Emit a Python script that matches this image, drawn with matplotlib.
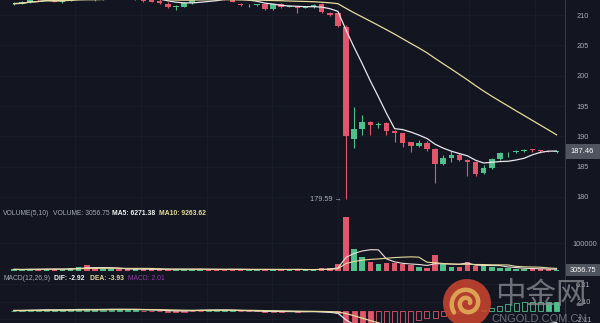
import numpy as np
import pandas as pd
import matplotlib
matplotlib.use("Agg")
import matplotlib.pyplot as plt
from matplotlib.patches import Rectangle, Ellipse
from matplotlib.transforms import blended_transform_factory

# ---- hourly OHLC + volume ----
opens = [211.8, 212.0, 212.1, 212.7, 212.5, 212.9, 212.2, 212.4, 212.9, 213.1,
         212.8, 212.6, 213.0, 213.3, 213.0, 212.8, 212.9, 212.6, 212.3, 211.9,
         211.4, 211.4, 212.0, 212.8, 213.2, 213.1, 212.9, 212.8, 211.8, 211.6,
         211.7, 211.8, 211.0, 211.8, 211.4, 211.3, 211.2, 211.3, 211.8, 210.4,
         210.4, 208.0, 189.5, 191.2, 192.4, 191.9, 192.2, 190.9, 190.5, 189.0,
         188.4, 188.9, 187.9, 185.4, 186.4, 187.0, 186.1, 185.8, 184.0, 184.8,
         186.2, 187.2, 187.35, 187.5, 187.8, 187.7, 187.65, 187.4]
highs = [212.1, 212.3, 212.9, 213.0, 213.2, 213.0, 212.7, 213.1, 213.3, 213.4,
         213.0, 213.2, 213.5, 213.6, 213.3, 213.1, 213.0, 212.8, 212.6, 212.1,
         211.7, 212.1, 213.0, 213.4, 213.6, 213.4, 213.2, 213.0, 212.0, 211.9,
         211.9, 212.0, 211.9, 212.0, 211.7, 211.5, 211.5, 211.8, 212.0, 210.5,
         210.5, 208.3, 194.9, 193.5, 192.6, 192.4, 192.3, 191.0, 190.6, 189.1,
         189.4, 189.2, 188.0, 186.9, 187.5, 187.2, 186.2, 185.9, 185.2, 186.5,
         187.4, 187.4, 187.7, 187.9, 187.9, 187.75, 187.7, 187.6]
lows = [211.6, 211.8, 212.0, 212.3, 212.4, 212.1, 212.0, 212.3, 212.6, 212.7,
        212.4, 212.5, 212.8, 212.9, 212.6, 212.5, 212.2, 212.1, 211.9, 211.2,
        210.9, 211.3, 211.9, 212.6, 212.9, 212.7, 212.5, 212.1, 211.5, 211.4,
        211.5, 210.9, 210.9, 211.2, 211.3, 210.4, 211.1, 211.2, 210.4, 209.9,
        208.1, 179.59, 188.0, 190.2, 190.3, 191.3, 190.2, 189.1, 188.3, 187.4,
        188.2, 187.5, 182.3, 185.2, 185.8, 185.9, 183.5, 183.5, 183.8, 184.6,
        186.1, 186.6, 187.2, 187.4, 187.4, 187.3, 187.35, 187.3]
closes = [211.9, 212.0, 212.6, 212.5, 213.0, 212.2, 212.4, 212.9, 213.1, 212.8,
          212.6, 213.0, 213.3, 213.0, 212.8, 212.9, 212.4, 212.2, 212.0, 211.3,
          211.4, 212.0, 212.8, 213.2, 213.1, 212.9, 212.8, 212.2, 211.6, 211.7,
          211.7, 211.0, 211.8, 211.3, 211.5, 211.2, 211.3, 211.7, 210.5, 210.0,
          208.2, 190.0, 191.2, 192.4, 191.9, 192.0, 190.9, 190.5, 188.9, 188.4,
          188.9, 187.9, 185.4, 186.4, 187.0, 186.1, 185.8, 183.8, 184.7, 186.2,
          187.3, 187.3, 187.59, 187.79, 187.74, 187.59, 187.54, 187.46]
volumes = [6000, 5000, 7000, 6500, 8000, 7500, 6000, 9000, 14000, 22000,
           9000, 7000, 8000, 6500, 6000, 5500, 7000, 6000, 5000, 8000,
           6000, 7000, 6500, 6000, 5500, 5000, 6000, 7000, 5500, 4500,
           4000, 7000, 6000, 5500, 4500, 6000, 4000, 5000, 9000, 10000,
           26000, 192000, 78000, 51000, 33000, 24000, 29000, 27000, 24000, 21000,
           15000, 12000, 58000, 24000, 15000, 13000, 33000, 19000, 20000, 13000,
           11000, 9500, 7779.3, 8200, 7600, 6900, 5600.15, 3056.75]

price_ticks = [180, 185, 190, 195, 200, 205, 210]
volume_ticks = [100000]
macd_ticks = [6.31, 2.10, -2.11]
macd_tick_labels = ["6.31", "2.10", "-2.11"]

# ---- styling ----
BG = "#131621"
UP = "#4fbf8b"
DOWN = "#e0566a"
MA_WHITE = "#e9e6ee"
MA_YELLOW = "#e6dc9c"
TXT = "#a6aab3"
SEP = "#33374a"
GRID = "#1a1e2b"
FONT = "Liberation Sans"

W, H = 600, 323
fig = plt.figure(figsize=(W / 100, H / 100), dpi=100, facecolor=BG)


def rect(x0, y0, x1, y1):
    return [x0 / W, 1 - y1 / H, (x1 - x0) / W, (y1 - y0) / H]


n = len(closes)
x = np.arange(n)
o = np.array(opens); h = np.array(highs); l = np.array(lows); c = np.array(closes)
v = np.array(volumes, dtype=float)
up = c >= o
colors = np.where(up, UP, DOWN)
xlim = (-1.716, 68.04)

s = pd.Series(c)
ma7 = s.rolling(7, min_periods=1).mean()
ma30 = s.rolling(30, min_periods=1).mean()
vs = pd.Series(v)
vma5 = vs.rolling(5, min_periods=1).mean()
vma10 = vs.rolling(10, min_periods=1).mean()
ema12 = s.ewm(span=12, adjust=False).mean()
ema26 = s.ewm(span=26, adjust=False).mean()
dif = ema12 - ema26
dea = dif.ewm(span=9, adjust=False).mean()
hist = 2 * (dif - dea)

ax_p = fig.add_axes(rect(0, 0, 565, 207))
ax_v = fig.add_axes(rect(0, 207, 565, 272))
ax_m = fig.add_axes(rect(0, 272, 565, 345))

vgrid = np.arange(7.6, 68, 8.1)
for ax in (ax_p, ax_v, ax_m):
    ax.set_facecolor(BG)
    ax.set_xlim(*xlim)
    for sp in ax.spines.values():
        sp.set_visible(False)
    ax.spines["right"].set_visible(True)
    ax.spines["right"].set_color(SEP)
    ax.spines["right"].set_linewidth(0.8)
    ax.spines["bottom"].set_visible(True)
    ax.spines["bottom"].set_color(SEP)
    ax.spines["bottom"].set_linewidth(0.8)
    ax.set_xticks(vgrid)
    ax.tick_params(axis="x", length=0, labelbottom=False)
    ax.yaxis.tick_right()
    ax.tick_params(axis="y", length=0, labelsize=5.3, labelcolor=TXT, pad=8)
    ax.grid(True, color=GRID, linewidth=0.6)
    ax.set_axisbelow(True)

# ---- price panel ----
ax_p.set_ylim(178.34, 212.5)
ax_p.set_yticks(price_ticks)
ax_p.set_yticklabels([str(t) for t in price_ticks], fontfamily=FONT)
body_lo = np.minimum(o, c)
body_h = np.maximum(np.abs(c - o), 0.12)
ax_p.vlines(x, l, h, colors=colors, linewidth=0.8, zorder=2)
ax_p.bar(x, body_h, bottom=body_lo, width=0.68, color=colors, linewidth=0, zorder=3)
ax_p.plot(x, ma7, color=MA_WHITE, linewidth=0.9, zorder=4)
ax_p.plot(x, ma30, color=MA_YELLOW, linewidth=0.9, zorder=4)

low_i = int(np.argmin(l))
ax_p.annotate(f"{l[low_i]:.2f} \u2192", xy=(low_i - 0.45, l[low_i]), ha="right", va="center",
              fontsize=5.3, color=TXT, fontfamily=FONT)

bt = blended_transform_factory(ax_p.transAxes, ax_p.transData)
ax_p.add_patch(Rectangle((1.002, c[-1] - 1.2), 0.06, 2.4, transform=bt,
                         facecolor="#50545f", edgecolor="none", clip_on=False, zorder=5))
ax_p.text(1.031, c[-1], f"{c[-1]:.2f}", transform=bt, ha="center", va="center",
          fontsize=5.4, color="white", fontfamily=FONT, zorder=6, clip_on=False)

# ---- volume panel ----
ax_v.set_ylim(-3571, 228571)
ax_v.set_yticks(volume_ticks)
ax_v.set_yticklabels([str(t) for t in volume_ticks], fontfamily=FONT)
ax_v.tick_params(axis="y", pad=5)
ax_v.bar(x, v, width=0.68, color=colors, linewidth=0, zorder=3)
ax_v.plot(x, vma5, color="#f1dcdc", linewidth=0.8, zorder=4)
ax_v.plot(x, vma10, color=MA_YELLOW, linewidth=0.8, zorder=4)
bv = blended_transform_factory(ax_v.transAxes, ax_v.transData)
ax_v.add_patch(Rectangle((1.002, v[-1] - 22000), 0.06, 44000, transform=bv,
                         facecolor="#50545f", edgecolor="none", clip_on=False, zorder=5))
ax_v.text(1.031, v[-1], f"{v[-1]:.2f}", transform=bv, ha="center", va="center",
          fontsize=5.3, color="white", fontfamily=FONT, zorder=6, clip_on=False)

# ---- MACD panel: histogram hollow while rising, solid while falling ----
ax_m.set_ylim(-8.29, 9.255)
ax_m.set_yticks(macd_ticks)
ax_m.set_yticklabels(macd_tick_labels, fontfamily=FONT)
hv = hist.values
prev = np.concatenate([[0.0], hv[:-1]])
for i in range(n):
    val = hv[i]
    col = UP if val >= 0 else DOWN
    solid = val < prev[i]
    ax_m.bar(i, val, width=0.62, facecolor=col if solid else BG,
             edgecolor=col, linewidth=0.6, zorder=3)
ax_m.plot(x, dif, color=MA_WHITE, linewidth=0.9, zorder=4)
ax_m.plot(x, dea, color=MA_YELLOW, linewidth=0.9, zorder=4)


# ---- panel titles ----
def title_row(y_px, parts):
    for x_px, text, col, weight in parts:
        fig.text(x_px / W, 1 - y_px / H, text, color=col, fontsize=4.9, fontweight=weight,
                 fontfamily=FONT, va="center", ha="left")


title_row(213.5, [
    (3, "VOLUME(5,10)", TXT, "normal"),
    (53, f"VOLUME: {v[-1]:.2f}", TXT, "normal"),
    (112, f"MA5: {vma5.iloc[-1]:.2f}", "#f4f4f4", "bold"),
    (159, f"MA10: {vma10.iloc[-1]:.2f}", MA_YELLOW, "bold"),
])
title_row(279, [
    (3, "MACD(12,26,9)", TXT, "normal"),
    (54, f"DIF: {dif.iloc[-1]:.2f}", "#f4f4f4", "bold"),
    (90, f"DEA: {dea.iloc[-1]:.2f}", MA_YELLOW, "bold"),
    (128, f"MACD: {hist.iloc[-1]:.2f}", "#8e3aa6", "normal"),
])

# ---- site watermark ----
cx, cy, r = 467, 303, 24
fig.patches.append(Ellipse((cx / W, 1 - cy / H), 2 * r / W, 2 * r / H,
                           transform=fig.transFigure, facecolor="#c8442f",
                           edgecolor="none", alpha=0.88, zorder=10))
t = np.linspace(0, 3.2 * np.pi, 200)
rr = 3 + 13 * t / t.max()
sx = (cx + rr * np.cos(t)) / W
sy = 1 - (cy - rr * np.sin(t)) / H
fig.lines.append(plt.Line2D(sx, sy, transform=fig.transFigure, color="#e3ad58",
                            linewidth=3.2, alpha=0.9, zorder=11, solid_capstyle="round"))
fig.text(541 / W, 1 - 296 / H, "中金网", color="#8d8f95", alpha=0.75, fontsize=22,
         fontfamily=["Noto Sans CJK SC"], ha="center", va="center", zorder=12)
fig.text(539 / W, 1 - 319 / H, "CNGOLD.COM.CN", color="#8d8f95", alpha=0.75, fontsize=8,
         fontfamily=FONT, ha="center", va="center", zorder=12)

fig.savefig("out.png", dpi=100, facecolor=BG)
